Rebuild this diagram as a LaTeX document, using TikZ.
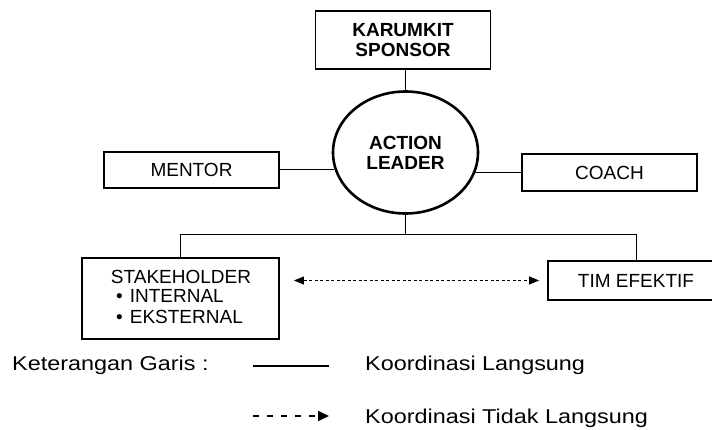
\documentclass[tikz,border=0pt]{standalone}
\usepackage{fontspec}
\setmainfont{Liberation Sans}
\usepackage{graphicx}
\usetikzlibrary{shapes.geometric,arrows.meta}
\begin{document}
\begin{tikzpicture}[x=1pt,y=-1pt,
  box/.style={draw,line width=1.8pt,inner sep=0pt,align=center,font=\fontsize{19}{20}\selectfont},
  boldbox/.style={box,font=\fontsize{19}{20}\selectfont\bfseries},
  txt/.style={inner sep=0pt,font=\fontsize{19}{21.5}\selectfont},
  conn/.style={line width=1pt},
  dasharrow/.style={line width=1pt,dash pattern=on 3pt off 2.5pt,{Triangle[length=10pt,width=8pt]}-{Triangle[length=10pt,width=8pt]}},
  legtxt/.style={inner sep=0pt,anchor=west,font=\fontsize{20}{22}\selectfont},
  legdash/.style={line width=2pt,dash pattern=on 6pt off 8pt,-{Triangle[length=11pt,width=10pt]}}]
\clip (0,0) rectangle (712,430);
\fill[white] (0,0) rectangle (712,430);

% nodes
\node[boldbox,minimum width=175pt,minimum height=58pt] (sponsor) at (403,40) {KARUMKIT\\SPONSOR};
\node[boldbox,ellipse,line width=2.6pt,minimum width=145pt,minimum height=122pt] (leader) at (405.5,152.5) {ACTION\\LEADER};
\node[box,minimum width=175pt,minimum height=36pt] (mentor) at (191.5,170) {MENTOR};
\node[box,minimum width=175pt,minimum height=37pt] (coach) at (609.5,172.5) {COACH};
\node[box,minimum width=197pt,minimum height=81pt] (stake) at (180.5,298.5) {};
\node[txt] (staketitle) at (181,277) {STAKEHOLDER};
\node[txt,align=left,anchor=north west] (stakelist) at (116,289) {\textbullet\hspace{7pt}INTERNAL\\\textbullet\hspace{7pt}EKSTERNAL};
\node[box,minimum width=176pt,minimum height=39pt] (tim) at (636,280.5) {TIM EFEKTIF};
\coordinate (bus) at (405.5,235);

% connectors
\draw[conn] (leader.north |- sponsor.south) -- (leader.north);
\draw[conn] (mentor.east) -- (leader.193 |- mentor.east);
\draw[conn] (leader.344 |- coach.west) -- (coach.west);
\draw[conn] (leader.south) -- (bus);
\draw[conn] (stake.north) -- (stake.north |- bus) -- (tim.north |- bus) -- (tim.north);
\draw[dasharrow] ([xshift=14pt]tim.west -| stake.east) -- ([xshift=-8pt]tim.west);

% legend
\node[legtxt] (ket) at (12,365) {\scalebox{1.17}[1]{Keterangan Garis :}};
\coordinate (s1) at (253,366);
\coordinate (s2) at (329,366);
\draw[line width=2pt] (s1) -- (s2);
\node[legtxt] (kl) at (365,365) {\scalebox{1.17}[1]{Koordinasi Langsung}};
\coordinate (d1) at (253,416);
\coordinate (d2) at (329,416);
\draw[legdash] (d1) -- (d2);
\node[legtxt] (ktl) at (365,418) {\scalebox{1.17}[1]{Koordinasi Tidak Langsung}};
\end{tikzpicture}
\end{document}
